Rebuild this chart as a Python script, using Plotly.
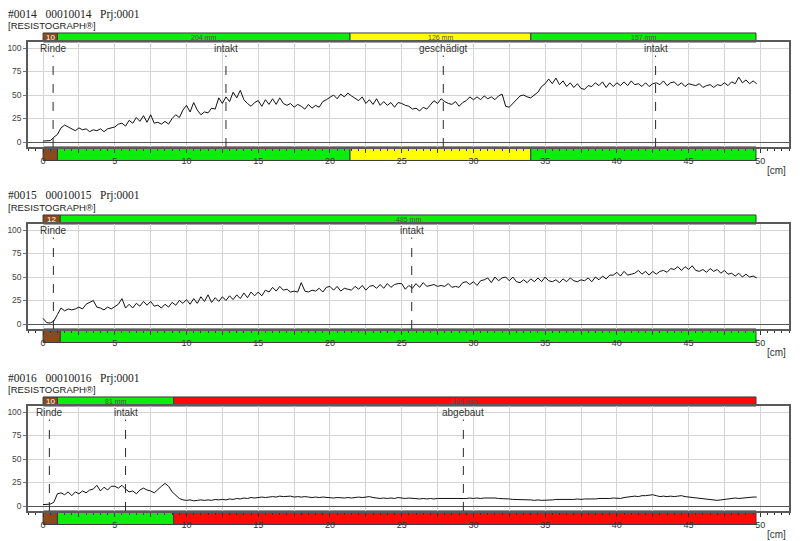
import numpy as np
import plotly.graph_objects as go

W, H = 800, 541
PAGE_PAD = 8  # the page body margin shifts the figure by this many pixels
STEP_CM = 0.25  # drilling sample spacing

IDS = ["#0014", "#0015", "#0016"]
CODES = ["00010014", "00010015", "00010016"]
PROJECT = "Prj:0001"
DEVICE = "[RESISTOGRAPH\u00ae]"

# bar segments (mm) and their state
SEG_MM_0014 = [10, 204, 126, 157]
SEG_KIND_0014 = ["rinde", "intakt", "geschaedigt", "intakt"]
SEG_MM_0015 = [12, 485]
SEG_KIND_0015 = ["rinde", "intakt"]
SEG_MM_0016 = [10, 81, 406]
SEG_KIND_0016 = ["rinde", "intakt", "abgebaut"]

# assessment marks (cm)
MARK_CM_0014 = [0.7, 12.75, 27.9, 42.7]
MARK_TEXT_0014 = ["Rinde", "intakt", "geschädigt", "intakt"]
MARK_CM_0015 = [0.72, 25.7]
MARK_TEXT_0015 = ["Rinde", "intakt"]
MARK_CM_0016 = [0.44, 5.75, 29.3]
MARK_TEXT_0016 = ["Rinde", "intakt", "abgebaut"]

# drilling resistance (%), one value per 0.25 cm
AMP_0014 = [
    1, 1, 1.5, 5, 8, 15, 18, 16, 14, 12, 15, 13, 14, 11, 13, 12, 14, 11, 14, 15,
    16, 19, 20, 17, 23, 20, 26, 22, 28, 21, 29, 20, 21, 19, 22, 19, 25, 29, 26, 34,
    39, 32, 42, 34, 29, 32, 31, 36, 35, 47, 41, 48, 43, 53, 47, 55, 45, 41, 38, 42,
    44, 38, 45, 40, 46, 40, 47, 41, 39, 41, 37, 40, 38, 35, 40, 36, 39, 37, 43, 45,
    48, 50, 46, 51, 48, 52, 49, 46, 44, 48, 41, 45, 40, 46, 39, 43, 39, 42, 37, 42,
    41, 39, 38, 35, 36, 33, 37, 35, 39, 44, 41, 46, 43, 41, 40, 43, 38, 42, 44, 48,
    45, 48, 45, 49, 46, 48, 45, 49, 51, 38, 37, 41, 44, 49, 50, 48, 47, 50, 53, 59,
    62, 67, 62, 68, 61, 65, 59, 63, 58, 62, 57, 56, 60, 59, 63, 60, 64, 58, 63, 59,
    63, 60, 64, 60, 65, 61, 62, 59, 63, 59, 62, 63, 61, 65, 60, 63, 64, 60, 63, 59,
    62, 61, 60, 62, 58, 60, 61, 58, 61, 60, 63, 60, 64, 62, 69, 63, 66, 62, 65, 62,
]
AMP_0015 = [
    6, 1.5, 1, 3, 10, 17, 14, 16, 15, 16, 18, 16, 21, 23, 25, 18, 17, 15, 18, 16,
    19, 21, 27, 17, 21, 17, 22, 19, 24, 20, 24, 19, 20, 17, 21, 18, 23, 20, 25, 22,
    26, 21, 27, 22, 29, 24, 31, 23, 28, 24, 29, 25, 30, 26, 31, 27, 33, 28, 34, 30,
    34, 30, 36, 34, 39, 35, 40, 36, 37, 34, 35, 34, 44, 35, 34, 36, 35, 38, 34, 39,
    40, 36, 40, 35, 38, 37, 36, 40, 37, 41, 36, 40, 41, 38, 42, 38, 43, 39, 42, 43,
    43, 37, 41, 38, 43, 39, 44, 40, 41, 42, 40, 41, 40, 43, 39, 40, 39, 44, 45, 42,
    45, 41, 46, 47, 49, 44, 50, 46, 49, 50, 46, 50, 45, 44, 47, 44, 48, 45, 49, 45,
    50, 46, 45, 47, 44, 48, 45, 49, 46, 45, 47, 46, 49, 45, 50, 47, 51, 48, 52, 52,
    55, 51, 56, 52, 53, 54, 57, 53, 56, 52, 56, 53, 56, 57, 55, 59, 58, 61, 57, 61,
    58, 62, 57, 56, 58, 55, 59, 56, 58, 54, 57, 53, 54, 51, 54, 50, 53, 50, 51, 49,
]
AMP_0016 = [
    1.5, 1.5, 2, 4, 13, 14, 12, 15, 11, 15, 13, 16, 14, 17, 18, 22, 16, 20, 17, 21,
    21, 19, 22, 18, 15, 16, 13, 17, 19, 17, 16, 14, 18, 21, 24, 21, 15, 11, 8, 6.5,
    6, 6.5, 5.5, 6, 6.5, 6, 6.5, 6, 7, 6.5, 7, 6.5, 7.5, 7, 8, 7.5, 8.5, 8, 9, 8.5,
    9, 9.5, 9, 9.5, 10, 9.5, 10.5, 10, 10, 10.5, 9.5, 10, 9.5, 10, 9.5, 9, 9.5, 9, 9.5, 9,
    9, 8.5, 9, 8.5, 8.5, 9, 8.5, 9, 9.5, 9, 9.5, 10, 9, 8.5, 8, 8.5, 8, 8.5, 8, 9,
    8.5, 8, 8.5, 8, 8, 7.5, 8, 7.5, 8, 7.5, 8, 8, 7.5, 8, 7.5, 8, 7.5, 8, 8, 8.5,
    8, 8.5, 8, 8.5, 8.5, 9, 8.5, 8, 8, 7.5, 7.5, 7, 7, 6.5, 7, 6.5, 6.5, 6, 6.5, 6,
    6, 6.5, 6.5, 7, 7, 6.5, 7, 7, 7, 7.5, 7, 7.5, 7.5, 7, 7.5, 8, 8, 7.5, 8, 8.5,
    8.5, 8, 9, 9.5, 10, 10.5, 10, 11, 11, 11.5, 12, 11, 10, 10.5, 10, 10.5, 10, 10.5, 11, 10,
    9.5, 9, 8.5, 8, 7.5, 7, 6.5, 6, 6, 6.5, 7, 7.5, 8, 8.5, 8, 8.5, 9, 9, 9.5, 9.5,
]

X_TICKS = [0, 2.5, 5, 7.5, 10, 12.5, 15, 17.5, 20, 22.5, 25, 27.5, 30, 32.5, 35,
           37.5, 40, 42.5, 45, 47.5, 50]
Y_TICKS = [0, 25, 50, 75, 100]

PANELS = [
    (AMP_0014, SEG_MM_0014, SEG_KIND_0014, MARK_CM_0014, MARK_TEXT_0014),
    (AMP_0015, SEG_MM_0015, SEG_KIND_0015, MARK_CM_0015, MARK_TEXT_0015),
    (AMP_0016, SEG_MM_0016, SEG_KIND_0016, MARK_CM_0016, MARK_TEXT_0016),
]

KIND_COLOR = {"rinde": "#8B4A1C", "intakt": "#0BEE0B",
              "geschaedigt": "#FFFF00", "abgebaut": "#FF0A0A"}
INK = "#333333"
GRID = "#D4D4D4"
FRAME = "#5A5A5A"

ZERO_PX = [142, 324, 506]   # screen row of 0 % in each panel
PX_PER_UNIT = 0.94
Y_RANGE = [-5.3, 106.4]
X_RANGE = [-1.05, 52.0]
PLOT_LEFT, PLOT_RIGHT = 28, 789  # screen columns of the frame


def paper_x(sx):
    return (sx - PAGE_PAD) / W


def paper_y(sy):
    return 1 - (sy - PAGE_PAD) / H


fig = go.Figure()
shapes, notes = [], []
layout = dict(
    width=W, height=H, margin=dict(l=0, r=0, t=0, b=0, autoexpand=False),
    paper_bgcolor="white", plot_bgcolor="white", showlegend=False,
    font=dict(family="Liberation Sans, Arial, sans-serif", color=INK, size=9),
)

for i, (amp, seg_mm, seg_kind, mark_cm, mark_text) in enumerate(PANELS):
    n = i + 1
    xa, ya = ("x" if n == 1 else f"x{n}"), ("y" if n == 1 else f"y{n}")
    z = ZERO_PX[i]
    top_px = z - Y_RANGE[1] * PX_PER_UNIT
    bot_px = z - Y_RANGE[0] * PX_PER_UNIT

    depth = np.arange(len(amp)) * STEP_CM
    fig.add_trace(go.Scatter(x=depth, y=amp, mode="lines", xaxis=xa, yaxis=ya,
                             line=dict(color="#111111", width=1), hoverinfo="skip"))

    layout["xaxis" if n == 1 else f"xaxis{n}"] = dict(
        domain=[paper_x(PLOT_LEFT), paper_x(PLOT_RIGHT)], range=X_RANGE, anchor=ya,
        automargin=False, tickmode="array", tickvals=X_TICKS,
        ticktext=[f"{v:g}" if v % 5 == 0 else "" for v in X_TICKS],
        ticks="outside", ticklen=4, tickcolor=INK, tickfont=dict(size=9, color=INK),
        minor=dict(dtick=0.5, tick0=0, ticks="outside", ticklen=2.5, tickcolor=INK, showgrid=False),
        showgrid=True, gridcolor=GRID, gridwidth=1, zeroline=False,
        showline=True, mirror=True, linecolor=FRAME, linewidth=1.5,
    )
    layout["yaxis" if n == 1 else f"yaxis{n}"] = dict(
        domain=[paper_y(bot_px), paper_y(top_px)], range=Y_RANGE, anchor=xa, automargin=False,
        tickvals=Y_TICKS, ticks="outside", ticklen=3, tickcolor="#777",
        tickfont=dict(size=8.5, color="#444"),
        showgrid=True, gridcolor=GRID, gridwidth=1,
        zeroline=True, zerolinecolor="#555", zerolinewidth=1,
        showline=True, mirror=True, linecolor=FRAME, linewidth=1.5,
    )

    # coloured status bars above and below the plot
    edges = np.concatenate([[0], np.cumsum(seg_mm)]) / 10
    for k, kind in enumerate(seg_kind):
        for y0, y1 in [(top_px - 9, top_px), (bot_px, bot_px + 13.5)]:
            shapes.append(dict(type="rect", xref=xa, yref="paper", layer="below",
                               x0=edges[k], x1=edges[k + 1],
                               y0=paper_y(y1), y1=paper_y(y0),
                               fillcolor=KIND_COLOR[kind], line=dict(color="#3a3a3a", width=1)))
        label = str(seg_mm[k]) if kind == "rinde" else f"{seg_mm[k]} mm"
        notes.append(dict(x=(edges[k] + edges[k + 1]) / 2, xref=xa,
                          y=paper_y(top_px - 4.5), yref="paper", text=label, showarrow=False,
                          xanchor="center", yanchor="middle", borderpad=0,
                          font=dict(size=8 if kind == "rinde" else 7,
                                    color="white" if kind == "rinde" else "#505050")))

    # dashed assessment marks
    for cm, txt in zip(mark_cm, mark_text):
        shapes.append(dict(type="line", xref=xa, yref=ya, x0=cm, x1=cm, y0=Y_RANGE[0], y1=92,
                           line=dict(color="#2a2a2a", width=1, dash="dash")))
        notes.append(dict(x=cm, xref=xa, y=99.5, yref=ya, text=txt, showarrow=False,
                          xanchor="center", yanchor="middle", borderpad=0,
                          font=dict(size=10, color="#333")))

    notes.append(dict(x=paper_x(7), xref="paper", y=paper_y(z - 128), yref="paper",
                      xanchor="left", yanchor="middle",
                      text=f"{IDS[i]}&nbsp;&nbsp;&nbsp;{CODES[i]}&nbsp;&nbsp;&nbsp;{PROJECT}",
                      showarrow=False, borderpad=0,
                      font=dict(family="Liberation Serif, serif", size=11.5, color="#222")))
    notes.append(dict(x=paper_x(7), xref="paper", y=paper_y(z - 116.5), yref="paper",
                      xanchor="left", yanchor="middle",
                      text=DEVICE, showarrow=False, borderpad=0, font=dict(size=9.5, color="#222")))
    notes.append(dict(x=paper_x(787), xref="paper", y=paper_y(z + 28), yref="paper",
                      xanchor="right", yanchor="middle",
                      text="[cm]", showarrow=False, borderpad=0, font=dict(size=10, color="#333")))

layout["shapes"] = shapes
layout["annotations"] = notes
fig.update_layout(**layout)
fig.write_html("out.html")
